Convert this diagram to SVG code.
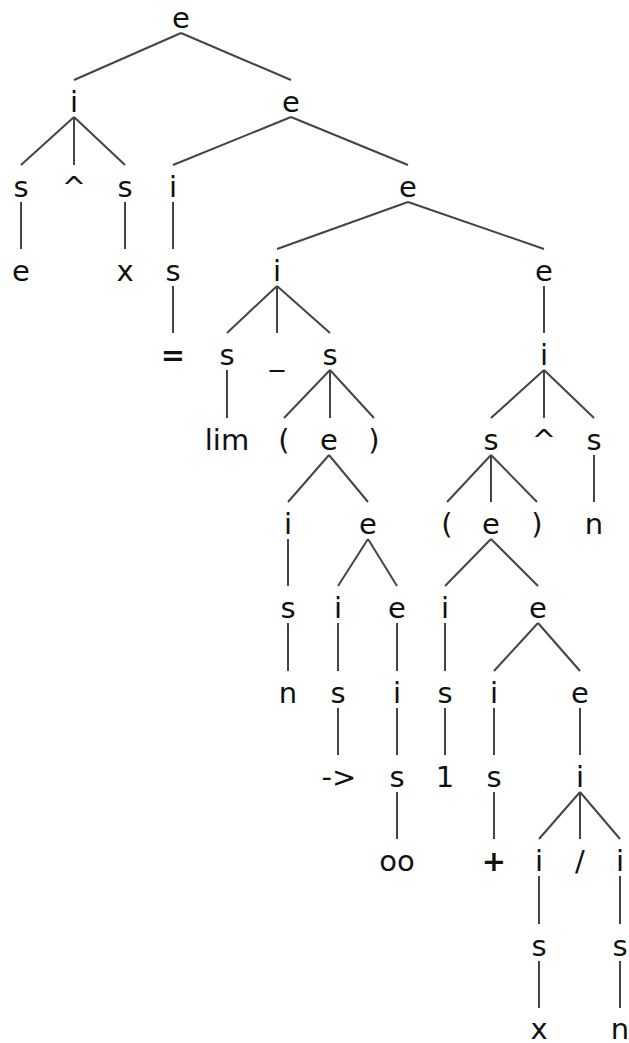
<svg xmlns="http://www.w3.org/2000/svg" width="629" height="1043" viewBox="0 0 629 1043">
<style>
text{font-family:"DejaVu Sans",sans-serif;font-size:29px;fill:#111;text-anchor:middle}
.c line{stroke:#444;stroke-width:2;stroke-linecap:butt}
</style>
<rect width="629" height="1043" fill="#fff"/>
<g class="c" id="connectors">
<line x1="181" y1="33" x2="74" y2="80"/><line x1="181" y1="33" x2="291" y2="80"/>
<line x1="74" y1="117" x2="21" y2="165"/><line x1="74" y1="117" x2="74" y2="165"/><line x1="74" y1="117" x2="125" y2="165"/>
<line x1="291" y1="117" x2="173" y2="165"/><line x1="291" y1="117" x2="408" y2="165"/>
<line x1="21" y1="202" x2="21" y2="249"/><line x1="125" y1="202" x2="125" y2="249"/><line x1="173" y1="202" x2="173" y2="249"/>
<line x1="408" y1="202" x2="277" y2="249"/><line x1="408" y1="202" x2="544" y2="249"/>
<line x1="173" y1="286" x2="173" y2="333"/>
<line x1="277" y1="286" x2="227" y2="333"/><line x1="277" y1="286" x2="277" y2="333"/><line x1="277" y1="286" x2="330" y2="333"/>
<line x1="544" y1="286" x2="544" y2="333"/>
<line x1="227" y1="370" x2="227" y2="418"/>
<line x1="330" y1="370" x2="284" y2="418"/><line x1="330" y1="370" x2="330" y2="418"/><line x1="330" y1="370" x2="374" y2="418"/>
<line x1="544" y1="370" x2="491" y2="418"/><line x1="544" y1="370" x2="544" y2="418"/><line x1="544" y1="370" x2="594" y2="418"/>
<line x1="329" y1="455" x2="288" y2="502"/><line x1="329" y1="455" x2="368" y2="502"/>
<line x1="491" y1="455" x2="447" y2="502"/><line x1="491" y1="455" x2="491" y2="502"/><line x1="491" y1="455" x2="537" y2="502"/>
<line x1="594" y1="455" x2="594" y2="502"/>
<line x1="288" y1="539" x2="288" y2="586"/>
<line x1="368" y1="539" x2="338" y2="586"/><line x1="368" y1="539" x2="397" y2="586"/>
<line x1="491" y1="539" x2="445" y2="586"/><line x1="491" y1="539" x2="538" y2="586"/>
<line x1="288" y1="623" x2="288" y2="671"/><line x1="338" y1="623" x2="338" y2="671"/><line x1="397" y1="623" x2="397" y2="671"/><line x1="445" y1="623" x2="445" y2="671"/>
<line x1="538" y1="623" x2="494" y2="671"/><line x1="538" y1="623" x2="580" y2="671"/>
<line x1="338" y1="708" x2="338" y2="755"/><line x1="397" y1="708" x2="397" y2="755"/><line x1="445" y1="708" x2="445" y2="755"/><line x1="494" y1="708" x2="494" y2="755"/><line x1="580" y1="708" x2="580" y2="755"/>
<line x1="397" y1="792" x2="397" y2="839"/><line x1="494" y1="792" x2="494" y2="839"/>
<line x1="580" y1="792" x2="539" y2="839"/><line x1="580" y1="792" x2="580" y2="839"/><line x1="580" y1="792" x2="620" y2="839"/>
<line x1="539" y1="876" x2="539" y2="924"/><line x1="620" y1="876" x2="620" y2="924"/>
<line x1="539" y1="961" x2="539" y2="1008"/><line x1="620" y1="961" x2="620" y2="1008"/>
</g>
<g id="n0"><text x="181" y="28">e</text></g>
<g id="n1"><text x="74" y="112">i</text></g>
<g id="n2"><text x="291" y="112">e</text></g>
<g id="n3"><text x="21" y="197">s</text></g>
<g id="n4"><text x="74" y="197">^</text></g>
<g id="n5"><text x="125" y="197">s</text></g>
<g id="n6"><text x="173" y="197">i</text></g>
<g id="n7"><text x="408" y="197">e</text></g>
<g id="n8"><text x="21" y="281">e</text></g>
<g id="n9"><text x="125" y="281">x</text></g>
<g id="n10"><text x="173" y="281">s</text></g>
<g id="n11"><text x="277" y="281">i</text></g>
<g id="n12"><text x="544" y="281">e</text></g>
<g id="n13"><text x="173" y="365" font-weight="bold">=</text></g>
<g id="n14"><text x="227" y="365">s</text></g>
<g id="n15"><text x="277" y="365">_</text></g>
<g id="n16"><text x="330" y="365">s</text></g>
<g id="n17"><text x="544" y="365">i</text></g>
<g id="n18"><text x="227" y="450">lim</text></g>
<g id="n19"><text x="284" y="450">(</text></g>
<g id="n20"><text x="329" y="450">e</text></g>
<g id="n21"><text x="374" y="450">)</text></g>
<g id="n22"><text x="491" y="450">s</text></g>
<g id="n23"><text x="544" y="450">^</text></g>
<g id="n24"><text x="594" y="450">s</text></g>
<g id="n25"><text x="288" y="534">i</text></g>
<g id="n26"><text x="368" y="534">e</text></g>
<g id="n27"><text x="447" y="534">(</text></g>
<g id="n28"><text x="491" y="534">e</text></g>
<g id="n29"><text x="537" y="534">)</text></g>
<g id="n30"><text x="594" y="534">n</text></g>
<g id="n31"><text x="288" y="618">s</text></g>
<g id="n32"><text x="338" y="618">i</text></g>
<g id="n33"><text x="397" y="618">e</text></g>
<g id="n34"><text x="445" y="618">i</text></g>
<g id="n35"><text x="538" y="618">e</text></g>
<g id="n36"><text x="288" y="703">n</text></g>
<g id="n37"><text x="338" y="703">s</text></g>
<g id="n38"><text x="397" y="703">i</text></g>
<g id="n39"><text x="445" y="703">s</text></g>
<g id="n40"><text x="494" y="703">i</text></g>
<g id="n41"><text x="580" y="703">e</text></g>
<g id="n42"><text x="339" y="787">-&gt;</text></g>
<g id="n43"><text x="397" y="787">s</text></g>
<g id="n44"><text x="445" y="787">1</text></g>
<g id="n45"><text x="494" y="787">s</text></g>
<g id="n46"><text x="580" y="787">i</text></g>
<g id="n47"><text x="397" y="871">oo</text></g>
<g id="n48"><text x="494" y="871" font-weight="bold">+</text></g>
<g id="n49"><text x="539" y="871">i</text></g>
<g id="n50"><text x="580" y="871">/</text></g>
<g id="n51"><text x="620" y="871">i</text></g>
<g id="n52"><text x="539" y="956">s</text></g>
<g id="n53"><text x="620" y="956">s</text></g>
<g id="n54"><text x="539" y="1039">x</text></g>
<g id="n55"><text x="620" y="1039">n</text></g>
</svg>
